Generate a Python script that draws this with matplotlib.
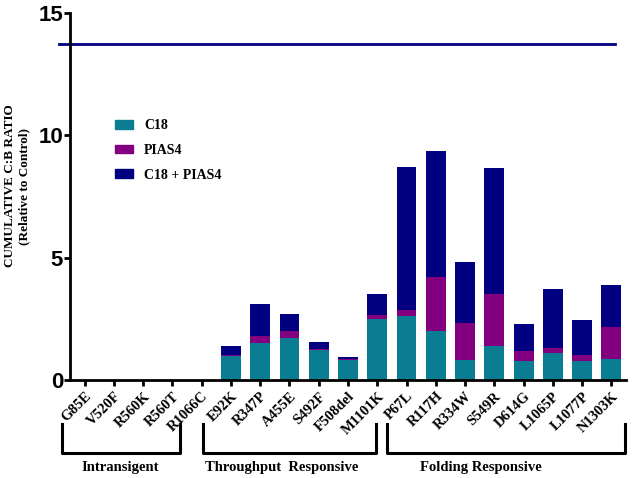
import numpy as np
import matplotlib
matplotlib.use("Agg")
import matplotlib.pyplot as plt
import matplotlib.transforms as mtransforms
from matplotlib.lines import Line2D
from matplotlib.patches import Patch

# data (segment heights of each stacked bar)
mutations = ["G85E", "V520F", "R560K", "R560T", "R1066C",
             "E92K", "R347P", "A455E", "S492F", "F508del", "M1101K",
             "P67L", "R117H", "R334W", "S549R", "D614G", "L1065P",
             "L1077P", "N1303K"]
c18 = [0, 0, 0, 0, 0,
       1.00, 1.51, 1.72, 1.21, 0.82, 2.51,
       2.63, 2.02, 0.80, 1.40, 0.78, 1.10, 0.79, 0.87]
pias4 = [0, 0, 0, 0, 0,
         0.02, 0.30, 0.30, 0.06, 0.05, 0.16,
         0.22, 2.20, 1.51, 2.11, 0.41, 0.21, 0.24, 1.31]
combo = [0, 0, 0, 0, 0,
         0.37, 1.31, 0.69, 0.27, 0.08, 0.84,
         5.84, 5.14, 2.53, 5.14, 1.10, 2.41, 1.41, 1.70]
ref_level = 13.75

group_names = ["Intransigent", "Throughput  Responsive", "Folding Responsive"]
# bracket extents (in category units) and label centres
bracket_x = [(-0.77, 3.27), (4.04, 9.96), (10.32, 18.48)]
label_x = [1.22, 6.72, 13.54]

col_c18 = "#0a7d92"
col_pias4 = "#820080"
col_combo = "#000080"

serif = "Liberation Serif"
sans = "Liberation Sans"

W, H = 633, 478
fig = plt.figure(figsize=(W / 100, H / 100), dpi=100)
ax = fig.add_axes([70 / W, 1 - 380 / H, 556 / W, 367 / H])

x = np.arange(len(mutations))
c18 = np.array(c18)
pias4 = np.array(pias4)
combo = np.array(combo)
w = 0.68
ax.bar(x, c18, w, color=col_c18, label="C18")
ax.bar(x, pias4, w, bottom=c18, color=col_pias4, label="PIAS4")
ax.bar(x, combo, w, bottom=c18 + pias4, color=col_combo, label="C18 + PIAS4")

ax.axhline(ref_level, xmin=-0.02, xmax=0.98, color=col_combo, lw=2,
           clip_on=False)

ax.set_xlim(-0.5, 18.5)
ax.set_ylim(0, 15)
ax.set_yticks([0, 5, 10, 15])
ax.set_xticks(x)
ax.set_xticklabels(mutations, rotation=45, ha="right",
                   rotation_mode="anchor", fontfamily=serif,
                   fontweight="bold", fontsize=10.5)
for lbl in ax.get_yticklabels():
    lbl.set_fontfamily(sans)
    lbl.set_fontweight("bold")
    lbl.set_fontsize(16)

for side in ["top", "right"]:
    ax.spines[side].set_visible(False)
for side in ["left", "bottom"]:
    ax.spines[side].set_linewidth(2)
ax.tick_params(axis="both", width=2, length=4, pad=3)
ax.tick_params(axis="y", pad=1)

fig.text(17 / W, 1 - 186 / H,
         "CUMULATIVE C:B RATIO\n(Relative to Control)",
         rotation=90, ha="center", va="center", multialignment="center",
         fontfamily=serif, fontweight="bold", fontsize=9.5, linespacing=1.3)

handles = [Patch(color=col_c18), Patch(color=col_pias4),
           Patch(color=col_combo)]
leg = ax.legend(handles, ["C18", "PIAS4", "C18 + PIAS4"],
                loc="upper left", bbox_to_anchor=(115 / W, 1 - 119 / H),
                bbox_transform=fig.transFigure, frameon=False,
                borderpad=0, borderaxespad=0, handlelength=1.3,
                handleheight=0.6, handletextpad=0.8, labelspacing=0.85,
                prop={"family": serif, "weight": "bold", "size": 10})

# group brackets under the tick labels
trans = mtransforms.blended_transform_factory(ax.transData, fig.transFigure)
y_top = 1 - 424 / H
y_bot = 1 - 453 / H
for (x0, x1), name, lx in zip(bracket_x, group_names, label_x):
    fig.add_artist(Line2D([x0, x0, x1, x1], [y_top, y_bot, y_bot, y_top],
                          transform=trans, color="black", lw=2.2))
    fig.text(lx, 1 - 467 / H, name, transform=trans, ha="center",
             va="center", fontfamily=serif, fontweight="bold", fontsize=10.5)

fig.savefig("out.png", dpi=100)
